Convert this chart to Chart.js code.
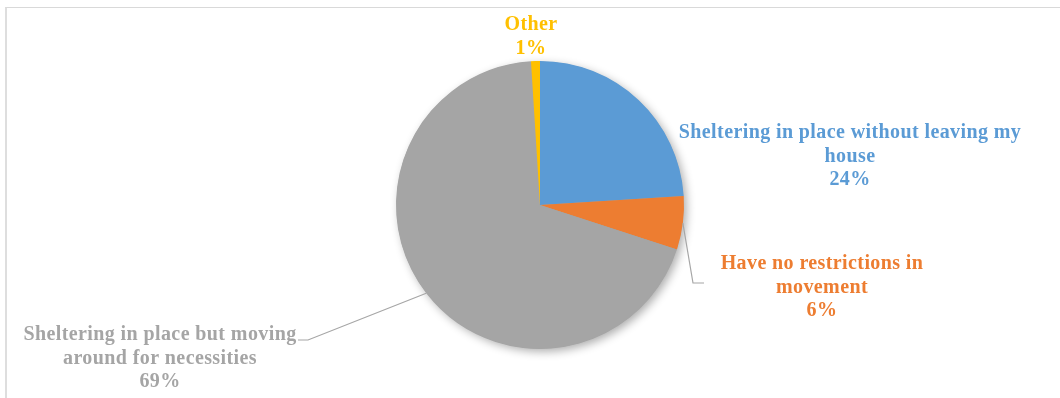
<!DOCTYPE html>
<html>
<head>
<meta charset="utf-8">
<script src="https://cdn.jsdelivr.net/npm/chart.js@4.4.1/dist/chart.umd.min.js"></script>
<style>
  html, body { margin: 0; padding: 0; background: #fff; }
  #wrap { position: relative; width: 1060px; height: 398px; overflow: hidden; }
  #frame { position: absolute; left: 5px; top: 7px; width: 1200px; height: 600px;
           border-top: 1px solid #d9d9d9; border-left: 2px solid #dedede; }
  #c { position: absolute; left: 0; top: 0; }
</style>
</head>
<body>
<div id="wrap">
  <div id="frame"></div>
  <canvas id="c" width="1060" height="398"></canvas>
</div>
<script>
// Movement status of respondents
const categories = [
  'Sheltering in place without leaving my house',
  'Have no restrictions in movement',
  'Sheltering in place but moving around for necessities',
  'Other'
];
// Category names as they wrap in the labels
const categoryLines = [
  ['Sheltering in place without leaving my', 'house'],
  ['Have no restrictions in', 'movement'],
  ['Sheltering in place but moving', 'around for necessities'],
  ['Other']
];
const shares = [24, 6, 69, 1];
const sliceColors = ['#5b9bd5', '#ed7d31', '#a5a5a5', '#ffc000'];

// Label placement: first-baseline offset from the pie centre
const labelOffsets = [[310, -67], [282, 64], [-380, 135], [-9, -175]];
// Leader line bend + end points (offset from pie centre), null = no leader
const leaderPaths = [null, [[153, 78], [164, 78]], [[-232, 135], [-242, 135]], null];

const LABEL_FONT = 'bold 20px "Liberation Serif", "Times New Roman", serif';
const LINE_HEIGHT = 23.5;

const pieDecor = {
  id: 'pieDecor',
  beforeDatasetsDraw(chart) {
    // soft drop shadow under the whole pie
    const arc = chart.getDatasetMeta(0).data[0];
    const ctx = chart.ctx;
    ctx.save();
    ctx.shadowColor = 'rgba(0,0,0,0.33)';
    ctx.shadowBlur = 10;
    ctx.shadowOffsetX = 3;
    ctx.shadowOffsetY = 3;
    ctx.fillStyle = '#a5a5a5';
    ctx.beginPath();
    ctx.arc(arc.x, arc.y, arc.outerRadius - 0.5, 0, Math.PI * 2);
    ctx.fill();
    ctx.restore();
  },
  afterDatasetsDraw(chart) {
    const ctx = chart.ctx;
    const arcs = chart.getDatasetMeta(0).data;
    ctx.save();
    arcs.forEach((arc, i) => {
      const cx = arc.x, cy = arc.y;
      const path = leaderPaths[i];
      if (path) {
        const mid = (arc.startAngle + arc.endAngle) / 2;
        ctx.strokeStyle = '#a6a6a6';
        ctx.lineWidth = 1.2;
        ctx.beginPath();
        ctx.moveTo(cx + Math.cos(mid) * arc.outerRadius, cy + Math.sin(mid) * arc.outerRadius);
        path.forEach(p => ctx.lineTo(cx + p[0], cy + p[1]));
        ctx.stroke();
      }
      const lines = categoryLines[i].concat([shares[i] + '%']);
      const [dx, dy] = labelOffsets[i];
      ctx.font = LABEL_FONT;
      ctx.letterSpacing = '0.4px';
      ctx.fillStyle = sliceColors[i];
      ctx.textAlign = 'center';
      ctx.textBaseline = 'alphabetic';
      lines.forEach((t, k) => ctx.fillText(t, cx + dx, cy + dy + k * LINE_HEIGHT));
    });
    ctx.restore();
  }
};

new Chart(document.getElementById('c'), {
  type: 'pie',
  data: {
    labels: categories,
    datasets: [{
      data: shares,
      backgroundColor: sliceColors,
      borderWidth: 0,
      hoverOffset: 0
    }]
  },
  options: {
    responsive: false,
    animation: false,
    rotation: 0,
    layout: { padding: { left: 396, right: 376, top: 61, bottom: 49 } },
    plugins: {
      legend: { display: false },
      tooltip: { enabled: false }
    }
  },
  plugins: [pieDecor]
});
</script>
</body>
</html>
